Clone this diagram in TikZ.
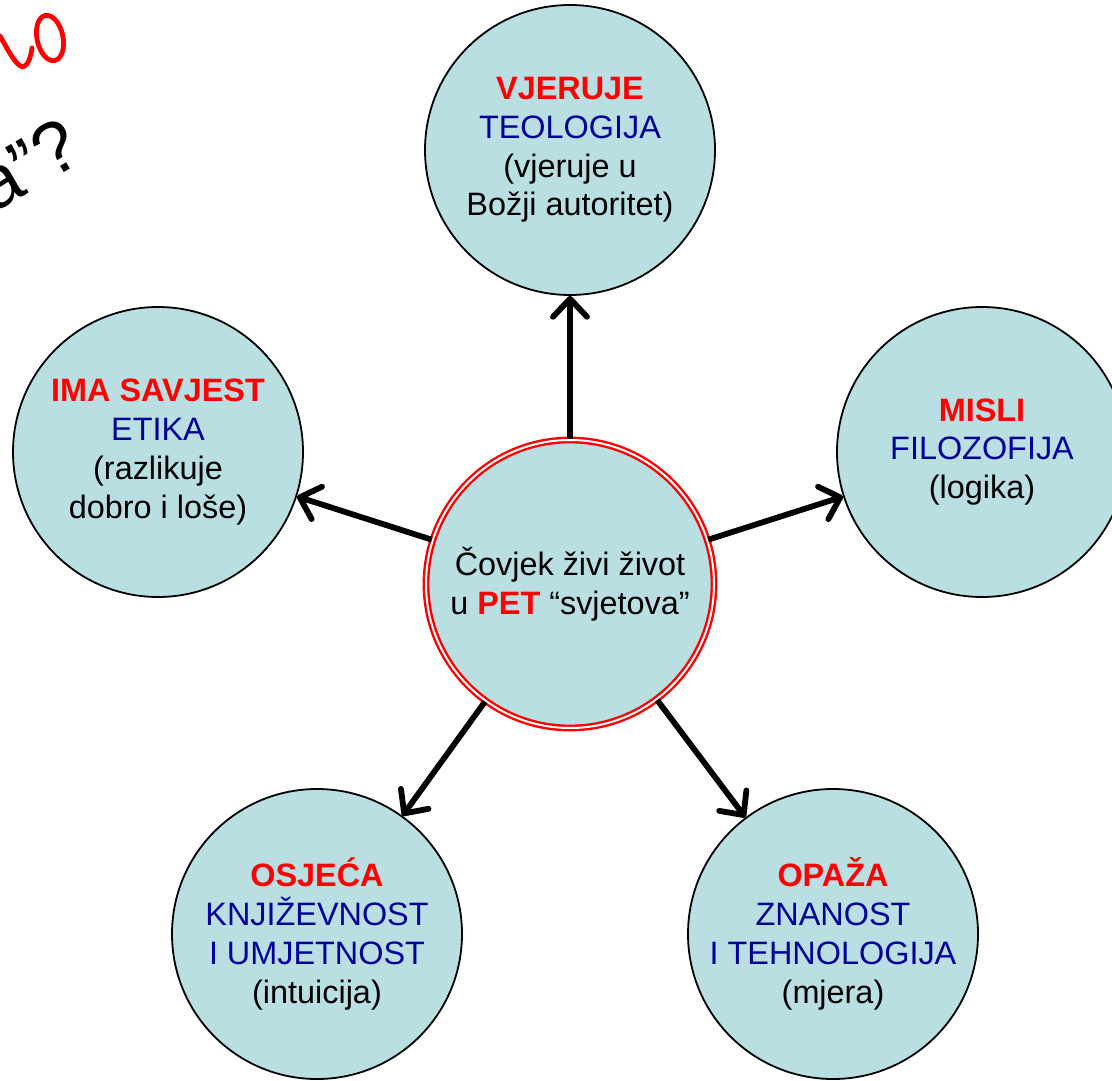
\documentclass[tikz,border=0pt]{standalone}
\usepackage{fontspec}
\setmainfont{Liberation Sans}
\usetikzlibrary{arrows.meta}
\definecolor{cfill}{RGB}{185,223,227}
\definecolor{cred}{RGB}{255,0,0}
\definecolor{cblue}{RGB}{0,0,153}
\begin{document}
\begin{tikzpicture}[x=0.5pt,y=-0.5pt,
  world/.style={circle, draw=black, line width=0.9pt, fill=cfill, minimum size=145pt,
    inner sep=0pt, align=center, font=\fontsize{16.2}{19.4}\selectfont},
  hub/.style={circle, draw=cred, double=white, line width=1.2pt, double distance=1pt,
    fill=cfill, minimum size=144pt, inner sep=0pt, align=center,
    font=\fontsize{16.2}{19.6}\selectfont},
  arr/.style={line width=2.9pt, -{Straight Barb[length=9pt,width=17pt,round]}},
  hw/.style={draw=cred, line width=2.4pt, line cap=round, line join=round},
]
\useasboundingbox (0,0) rectangle (1112,1080);
\clip (0,0) rectangle (1112,1080);

% handwritten fragments
\draw[hw] (0,36) .. controls (8,50) and (16,66) .. (23,67) .. controls (28,66) and (31,56) .. (32,48);
\draw[hw, rotate around={12:(50,38)}] (50,38) ellipse (13 and 23);
\node[anchor=base east, inner sep=0pt, rotate=30, font=\fontsize{37}{42}\selectfont] (q) at (86,160) {a”?};

% central node
\node[hub] (c) at (570,584) {Čovjek živi život\\u \textcolor{cred}{\textbf{PET}} “svjetova”};

% worlds
\node[world] (t) at (570,150) {\textcolor{cred}{\textbf{VJERUJE}}\\\textcolor{cblue}{TEOLOGIJA}\\(vjeruje u\\Božji autoritet)};
\node[world] (l) at (158,452) {\textcolor{cred}{\textbf{IMA SAVJEST}}\\\textcolor{cblue}{ETIKA}\\(razlikuje\\dobro i loše)};
\node[world] (r) at (982,452) {\textcolor{cred}{\textbf{MISLI}}\\\textcolor{cblue}{FILOZOFIJA}\\(logika)};
\node[world] (bl) at (317,934) {\textcolor{cred}{\textbf{OSJEĆA}}\\\textcolor{cblue}{KNJIŽEVNOST}\\\textcolor{cblue}{I UMJETNOST}\\(intuicija)};
\node[world] (br) at (833,934) {\textcolor{cred}{\textbf{OPAŽA}}\\\textcolor{cblue}{ZNANOST}\\\textcolor{cblue}{I TEHNOLOGIJA}\\(mjera)};

% connectors
\draw[arr] (c) -- (t);
\draw[arr] (c) -- (l);
\draw[arr] (c) -- (r);
\draw[arr] (c) -- (bl);
\draw[arr] (c) -- (br);
\end{tikzpicture}
\end{document}
